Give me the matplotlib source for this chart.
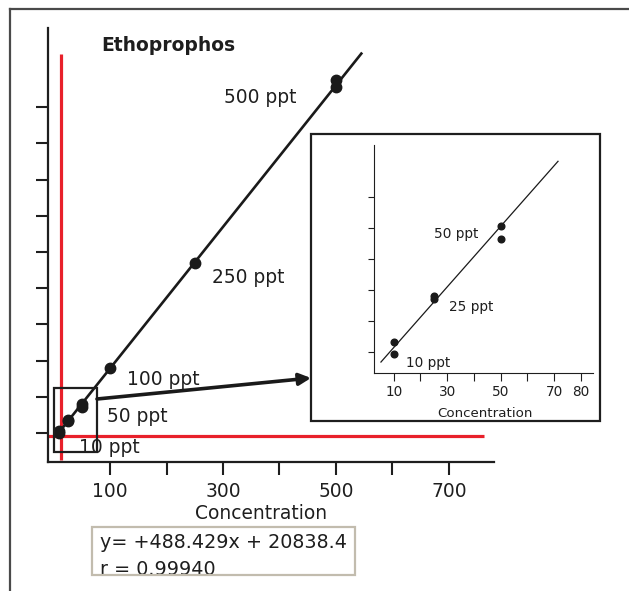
import matplotlib
matplotlib.use("Agg")
import matplotlib.pyplot as plt
from matplotlib.patches import Rectangle, FancyArrowPatch
from matplotlib.lines import Line2D
import numpy as np

# ---- data ----
conc = [10, 10, 25, 25, 50, 50, 100, 250, 500, 500]
response = [26600, 24700, 34000, 33600, 45300, 43200, 69900, 142400, 268800, 264000]
slope = 488.429
intercept = 20838.4
r_value = 0.99940

main_xticks = [100, 200, 300, 400, 500, 600, 700]
main_xticklabels = ['100', '', '300', '', '500', '', '700']
main_yticks = [25000, 50000, 75000, 100000, 125000, 150000, 175000, 200000, 225000, 250000]
inset_xticks = [10, 20, 30, 40, 50, 60, 70, 80]
inset_xticklabels = ['10', '', '30', '', '50', '', '70', '80']
inset_yticks = [25000, 30000, 35000, 40000, 45000, 50000]

main_labels = ['500 ppt', '250 ppt', '100 ppt', '50 ppt', '10 ppt']
inset_labels = ['50 ppt', '25 ppt', '10 ppt']

W, H = 629, 591
def fx(px):
    return px / W
def fy(py):
    return 1 - py / H

TXT = '#1e1e1e'
fig = plt.figure(figsize=(W / 100, H / 100), dpi=100)
fig.patch.set_facecolor('white')

# outer frame lines (top and left)
fig.add_artist(Line2D([fx(10), fx(629)], [fy(9), fy(9)], color='#4a4a4a', lw=1.6))
fig.add_artist(Line2D([fx(10), fx(10)], [fy(9), fy(591)], color='#4a4a4a', lw=1.6))

# ---- main axes ----
ax = fig.add_axes([fx(48), fy(462), fx(494) - fx(48), fy(28) - fy(462)])
ax.set_xlim(-10, 780)
ax.set_ylim(5000, 304700)
for s in ['top', 'right']:
    ax.spines[s].set_visible(False)
for s in ['left', 'bottom']:
    ax.spines[s].set_linewidth(1.6)
    ax.spines[s].set_color('#1e1e1e')
ax.set_xticks(main_xticks)
ax.set_xticklabels(main_xticklabels)
ax.set_yticks(main_yticks)
ax.set_yticklabels([])
ax.tick_params(axis='x', direction='out', length=9.4, width=1.5, color='#1e1e1e',
               labelsize=13.4, labelcolor=TXT, pad=5)
ax.tick_params(axis='y', direction='out', length=8.6, width=1.5, color='#1e1e1e')

# red cross-hair lines
ax.plot([13, 13], [6300, 286700], color='#e8202a', lw=2.3, zorder=2, solid_capstyle='butt')
ax.plot([-10, 762], [22930, 22930], color='#e8202a', lw=2.3, zorder=2, solid_capstyle='butt')

# fit line
xl = np.array([5, 545])
ax.plot(xl, slope * xl + intercept, color='#1a1a1a', lw=1.9, zorder=3)
ax.plot(conc, response, 'o', color='#1a1a1a', ms=7.5, zorder=4)

# zoom rectangle
ax.add_patch(Rectangle((0.9, 11880), 76.1, 44200, fill=False, lw=1.6,
                       edgecolor='#1e1e1e', zorder=5))

main_lab_pos = [(302, 252900), (280, 128600), (130, 58150), (95, 32600), (45, 11200)]
for lab, (x, y) in zip(main_labels, main_lab_pos):
    ax.text(x, y, lab, fontsize=13.4, color=TXT, ha='left', va='baseline', zorder=6)

fig.text(fx(101), fy(51), 'Ethoprophos', fontsize=13.5, fontweight='bold',
         color=TXT, ha='left', va='baseline')
fig.text(fx(261), fy(519), 'Concentration', fontsize=13.4, color=TXT,
         ha='center', va='baseline')

# ---- inset ----
fig.add_artist(Rectangle((fx(311), fy(421)), fx(600) - fx(311), fy(134) - fy(421),
                         transform=fig.transFigure, fill=False, lw=1.6,
                         edgecolor='#1e1e1e'))
axi = fig.add_axes([fx(374), fy(373), fx(593) - fx(374), fy(145) - fy(373)])
axi.set_xlim(2.6, 84.6)
axi.set_ylim(21610, 58390)
for s in ['top', 'right']:
    axi.spines[s].set_visible(False)
for s in ['left', 'bottom']:
    axi.spines[s].set_linewidth(0.8)
    axi.spines[s].set_color('#1e1e1e')
axi.set_xticks(inset_xticks)
axi.set_xticklabels(inset_xticklabels)
axi.set_yticks(inset_yticks)
axi.set_yticklabels([])
axi.tick_params(axis='x', direction='out', length=5.8, width=0.8, color='#1e1e1e',
                labelsize=9.8, labelcolor=TXT, pad=2.5)
axi.tick_params(axis='y', direction='out', length=4.3, width=0.8, color='#1e1e1e')
xi = np.array([5.2, 71.5])
axi.plot(xi, slope * xi + intercept, color='#1a1a1a', lw=0.9)
axi.plot(conc, response, 'o', color='#1a1a1a', ms=4.8)
inset_lab_pos = [(25.0, 43390), (30.6, 31610), (14.5, 22580)]
for lab, (x, y) in zip(inset_labels, inset_lab_pos):
    axi.text(x, y, lab, fontsize=9.8, color=TXT, ha='left', va='baseline')
fig.text(fx(485), fy(417), 'Concentration', fontsize=9.6, color=TXT,
         ha='center', va='baseline')

# arrow
fig.add_artist(FancyArrowPatch((fx(97), fy(399)), (fx(311), fy(378)),
                               transform=fig.transFigure,
                               arrowstyle='-|>,head_length=7,head_width=3.5',
                               lw=2.6, color='#1a1a1a', shrinkA=0, shrinkB=0))

# equation box
fig.text(fx(100), fy(548), f'y= +{slope}x + {intercept}', fontsize=13.8,
         color=TXT, ha='left', va='baseline')
fig.text(fx(100), fy(575), f'r = {r_value:.5f}', fontsize=13.8,
         color=TXT, ha='left', va='baseline')
fig.add_artist(Rectangle((fx(92), fy(575)), fx(355) - fx(92), fy(527) - fy(575),
                         transform=fig.transFigure, facecolor='none', lw=1.6,
                         edgecolor='#c2bcae', zorder=10))

fig.savefig('out.png', dpi=100, facecolor='white')
